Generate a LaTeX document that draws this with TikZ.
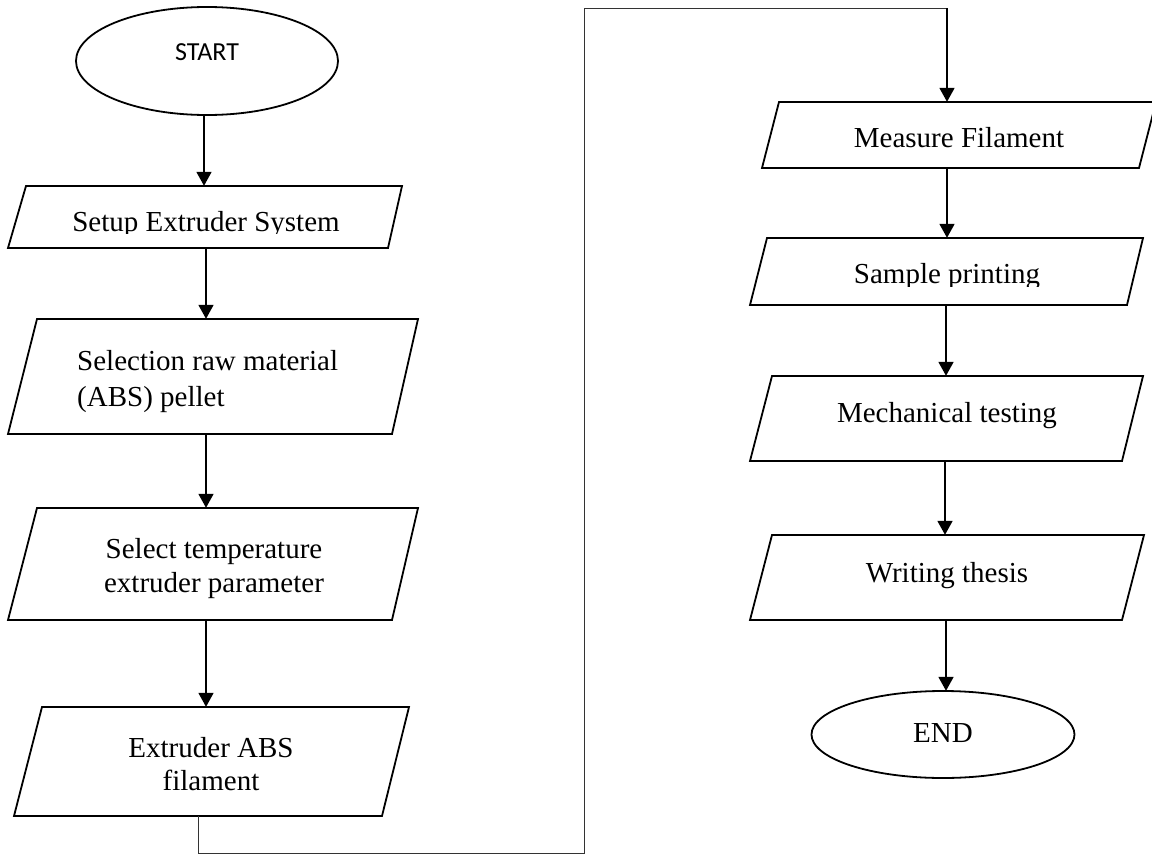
\documentclass[tikz,border=0pt]{standalone}
\usepackage{fontspec}
\setmainfont{Liberation Serif}
\newfontfamily\startfont{Carlito}
\usetikzlibrary{arrows.meta}
\tikzset{
  boxline/.style={line width=1.8pt, line join=miter},
  arr/.style={line width=1.8pt, -{Triangle[width=15pt,length=14pt]}},
  thinline/.style={line width=1pt, black!80},
  anchorbox/.style={inner sep=0pt, minimum width=1pt, draw=none},
  txt/.style={inner sep=0pt, anchor=base, font=\fontsize{29}{34}\selectfont},
}
\begin{document}
\begin{tikzpicture}[x=1pt,y=-1pt]
\useasboundingbox (0,0) rectangle (1152,854);

% ---- invisible anchor nodes (box extents) ----
\node[anchorbox, minimum height=108pt] (start) at (204,61) {};
\node[anchorbox, minimum height=62pt]  (setup) at (204,217) {};
\node[anchorbox, minimum height=115pt] (sel)   at (206,376.5) {};
\node[anchorbox, minimum height=112pt] (temp)  at (206,564) {};
\node[anchorbox, minimum height=109pt] (extr)  at (198,761.5) {};
\node[anchorbox, minimum height=66pt]  (meas)  at (947,135) {};
\node[anchorbox, minimum height=67pt]  (samp)  at (946,271.5) {};
\node[anchorbox, minimum height=85pt]  (mech)  at (945,418.5) {};
\node[anchorbox, minimum height=85pt]  (writ)  at (946,577.5) {};
\node[anchorbox, minimum height=87pt]  (endn)  at (946,734.5) {};
\coordinate (c1) at (198,853);
\coordinate (c2) at (584,853);
\coordinate (c3) at (584,8);
\coordinate (c4) at (947,8);

% ---- shapes ----
\draw[boxline] (207,61) ellipse [x radius=131, y radius=54];
\draw[boxline] (26,186) -- (402,186) -- (388,248) -- (8,248) -- cycle;
\draw[boxline] (37,319) -- (418,319) -- (392,434) -- (8,434) -- cycle;
\draw[boxline] (37,508) -- (418,508) -- (392,620) -- (8,620) -- cycle;
\draw[boxline] (42,707) -- (409,707) -- (382,816) -- (14,816) -- cycle;
\draw[boxline] (779,102) -- (1156,102) -- (1139,168) -- (762,168) -- cycle;
\draw[boxline] (767,238) -- (1143,238) -- (1127,305) -- (750,305) -- cycle;
\draw[boxline] (772,376) -- (1143,376) -- (1122,461) -- (750,461) -- cycle;
\draw[boxline] (772,535) -- (1144,535) -- (1122,620) -- (750,620) -- cycle;
\draw[boxline] (943,734.5) ellipse [x radius=131.5, y radius=43.5];

% ---- texts ----
\node[txt, font=\startfont\fontsize{26}{30}\selectfont] (startt) at (207,60) {START};
\begin{scope}
  \clip (40,190) rectangle (380,233);
  \node[txt] (setupt) at (206,231) {Setup Extruder System};
\end{scope}
\node[txt, anchor=base west] (selt1) at (77,370) {Selection raw material};
\node[txt, anchor=base west] (selt2) at (77,406) {(ABS) pellet};
\node[txt] (tempt1) at (214,558) {Select temperature};
\node[txt] (tempt2) at (214,592) {extruder parameter};
\node[txt] (extrt1) at (211,757) {Extruder ABS};
\node[txt] (extrt2) at (211,790) {filament};
\node[txt] (meast) at (959,147) {Measure Filament};
\begin{scope}
  \clip (780,240) rectangle (1110,286);
  \node[txt] (sampt) at (947,283) {Sample printing};
\end{scope}
\node[txt] (mecht) at (947,422) {Mechanical testing};
\node[txt] (writt) at (947,582) {Writing thesis};
\node[txt] (endt) at (943,742) {END};

% ---- connectors ----
\draw[arr] (start.south) -- (setup.north);
\draw[arr] (sel.north |- setup.south) -- (sel.north);
\draw[arr] (sel.south) -- (temp.north);
\draw[arr] (temp.south) -- (temp.south |- extr.north);
\draw[thinline] (extr.south) -- (c1) -- (c2) -- (c3) -- (c4);
\draw[arr] (c4) -- (meas.north);
\draw[arr] (meas.south) -- (meas.south |- samp.north);
\draw[arr] (samp.south) -- (samp.south |- mech.north);
\draw[arr] (mech.south) -- (mech.south |- writ.north);
\draw[arr] (writ.south) -- (writ.south |- endn.north);
\end{tikzpicture}
\end{document}
